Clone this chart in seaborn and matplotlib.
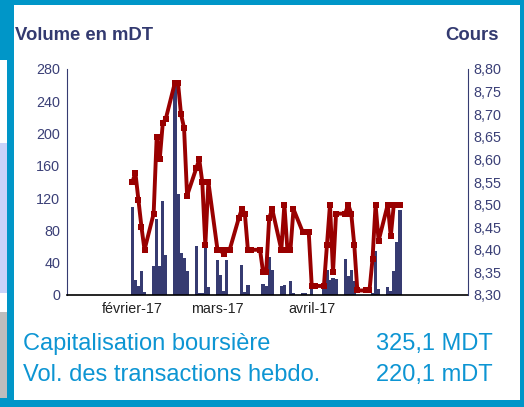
import numpy as np
import pandas as pd
import matplotlib
matplotlib.use("Agg")
import matplotlib.pyplot as plt
from matplotlib.patches import Rectangle
import seaborn as sns

# Daily trading data, 13 weeks starting Monday 30 Jan 2017
volume = [109, 19, 11, 30, 4,
          36, 94, 36, 116, 50,
          262, 125, 52, 46, 30,
          61, 2, 2, 60, 10,
          43, 25, 5, 43, 0,
          0, 37, 4, 12, 0,
          0, 14, 11, 47, 31,
          11, 12, 0, 17, 2,
          3, 2, 0, 7, 0,
          13, 31, 19, 21, 20,
          45, 23, 31, 17, 0,
          0, 0, 2, 54, 7,
          10, 5, 30, 66, 105]
cours = [8.55, 8.57, 8.51, 8.45, 8.40,
         8.48, 8.65, 8.60, 8.68, 8.69,
         8.77, 8.77, 8.70, 8.67, 8.52,
         8.58, 8.60, 8.55, 8.41, 8.55,
         8.40, 8.40, 8.39, 8.40, 8.40,
         8.47, 8.49, 8.48, 8.40, 8.40,
         8.40, 8.35, 8.35, 8.47, 8.49,
         8.40, 8.50, 8.40, 8.40, 8.49,
         8.44, 8.44, 8.44, 8.32, 8.32,
         8.32, 8.41, 8.50, 8.35, 8.48,
         8.48, 8.50, 8.48, 8.41, 8.31,
         8.31, 8.31, 8.38, 8.50, 8.42,
         8.50, 8.43, 8.50, 8.50, 8.50]
month_labels = ["février-17", "mars-17", "avril-17"]
month_ticks = [0, 28, 59]
info_labels = ["Capitalisation boursière", "Vol. des transactions hebdo."]
info_values = ["325,1 MDT", "220,1 mDT"]

dates = pd.bdate_range("2017-01-30", periods=len(volume))
df = pd.DataFrame({"jour": (dates - dates[0]).days, "volume": volume, "cours": cours})

NAVY = "#363b71"
RED = "#990000"
FRAME = "#0096c8"
CYAN = "#0d95d3"

sns.set_style("white")
plt.rcParams["font.family"] = ["Liberation Sans", "DejaVu Sans"]

W, H = 524, 407
fig = plt.figure(figsize=(W / 100, H / 100), dpi=100, facecolor=FRAME)


def box(x0, y0, x1, y1):
    # pixel box (top-left origin) -> figure fraction rect
    return (x0 / W, 1 - y1 / H, (x1 - x0) / W, (y1 - y0) / H)


def panel(x0, y0, x1, y1, color):
    l, b, w, h = box(x0, y0, x1, y1)
    fig.patches.append(Rectangle((l, b), w, h, transform=fig.transFigure,
                                 facecolor=color, edgecolor="none", zorder=-5))


# frame and page fragments on the left
panel(14, 5, 520, 400, "white")
panel(0, 60, 7, 143, "white")
panel(0, 143, 7, 293, "#c9d3fa")
panel(0, 293, 7, 312, "white")
panel(0, 312, 7, 398, "#bdbdbd")

ax = fig.add_axes(box(67, 69, 468, 295))
ax.set_facecolor("none")
sns.barplot(data=df, x="jour", y="volume", native_scale=True, width=1.1,
            color=NAVY, saturation=1, errorbar=None, linewidth=0, ax=ax)

ax2 = ax.twinx()
sns.lineplot(data=df, x="jour", y="cours", ax=ax2, color=RED, linewidth=2.8,
             marker="s", markersize=4.8, markeredgewidth=0)

ax.set_xlim(-21.5, 110.4)
ax.set_ylim(0, 280)
ax2.set_ylim(8.30, 8.80)

ax.set_yticks(range(0, 281, 40))
ax2.set_yticks(np.linspace(8.30, 8.80, 11))
ax2.set_yticklabels([f"{v:.2f}".replace(".", ",") for v in np.linspace(8.30, 8.80, 11)])
ax.set_xticks(month_ticks)
ax.set_xticklabels(month_labels)

for a in (ax, ax2):
    a.set_xlabel("")
    a.set_ylabel("")
    a.grid(False)
    for s in a.spines.values():
        s.set_visible(False)

ax.spines["bottom"].set_visible(True)
ax.spines["bottom"].set_color("black")
ax.spines["bottom"].set_linewidth(1.2)
ax.spines["left"].set_visible(True)
ax.spines["left"].set_color(NAVY)
ax.spines["left"].set_linewidth(0.8)
ax2.spines["right"].set_visible(True)
ax2.spines["right"].set_color(NAVY)
ax2.spines["right"].set_linewidth(0.8)

ax.tick_params(axis="y", length=0, pad=5, labelsize=10.4, labelcolor="#3b4077")
ax.tick_params(axis="x", length=0, pad=5, labelsize=10.3, labelcolor="#222222")
ax2.tick_params(axis="y", length=0, pad=4, labelsize=10.4, labelcolor="#3b4077")

fig.text(15 / W, 1 - 35 / H, "Volume en mDT", fontsize=13.3, fontweight="bold",
         color="#333a70", va="center", ha="left")
fig.text(499 / W, 1 - 35 / H, "Cours", fontsize=13.3, fontweight="bold",
         color="#333a70", va="center", ha="right")

for i, (lab, val) in enumerate(zip(info_labels, info_values)):
    yb = 1 - (350 + 31 * i) / H
    fig.text(23 / W, yb, lab, fontsize=17, color=CYAN, va="baseline", ha="left")
    fig.text(493 / W, yb, val, fontsize=17, color=CYAN, va="baseline", ha="right")

fig.savefig("out.png", dpi=100, facecolor=fig.get_facecolor())
